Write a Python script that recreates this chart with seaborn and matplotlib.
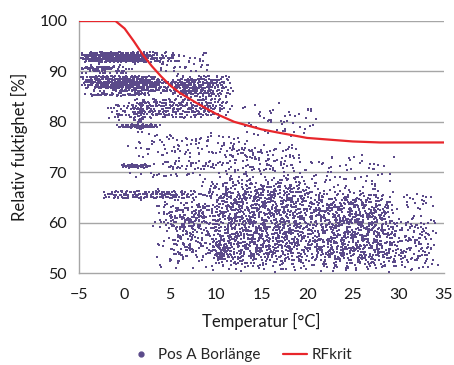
import numpy as np
import pandas as pd
import matplotlib
matplotlib.use("Agg")
import matplotlib.pyplot as plt
import seaborn as sns
from matplotlib.lines import Line2D

# ---- data ----
# RFkrit curve
rf_temp = [-5, -1, 0, 1, 2, 3, 4, 5, 6, 7, 8, 9, 10, 12, 14, 15, 17, 20, 25, 28, 35]
rf_val = [100, 100, 98.5, 96.0, 93.3, 91.0, 89.0, 87.2, 85.8, 84.7, 83.6, 82.6, 81.6, 80.0, 79.0, 78.5, 77.8, 76.8, 76.1, 75.9, 75.9]

# measured points summarised as density regions read from the picture:
# temperature range, RH range, number of points, RH resolution of the streaks
reg_t_lo = [-5, -5, 3, -5, -5, -4, -5, 5, 0, 12, -2, -1, 1.3, 0, -0.5, 3, 0, -3, 3, 3,
            8, 20, 28, 9.5, 10, 19, 30, 5, -5]
reg_t_hi = [3, 6, 10, -1, 4, 10, 3, 12, 12, 22, 2, 4, 2.1, 15, 3, 12, 9, 9, 10, 8,
            22, 30, 34.5, 11.5, 20, 30, 34, 9, 1]
reg_rh_lo = [91.8, 91.5, 89.5, 90.2, 86.5, 85.5, 85.2, 84.5, 80.5, 76.5, 80.0, 78.8, 77.5, 72.5, 70.8, 70.3, 69.0, 64.5, 58.0, 50.0,
             50.0, 50.0, 50.0, 52.5, 69.0, 66.0, 62.0, 52.0, 89.3]
reg_rh_hi = [93.8, 94.1, 94.0, 91.0, 89.3, 88.5, 85.6, 89.5, 85.0, 84.0, 84.0, 79.6, 84.0, 78.0, 71.6, 72.5, 70.0, 66.5, 64.5, 58.0,
             70.0, 67.0, 62.0, 56.0, 76.0, 74.0, 66.0, 64.0, 91.2]
reg_n = [420, 200, 45, 40, 380, 330, 50, 220, 300, 50, 45, 80, 40, 100, 60, 50, 20, 160, 110, 30,
         1500, 900, 170, 45, 120, 60, 20, 120, 50]
reg_step = [0.3, 0.3, 0.3, 0.2, 0.3, 0.3, 0.1, 0.3, 0.3, 0.1, 0.3, 0.2, 0.1, 0.1, 0.2, 0.2, 0.1, 0.3, 0.1, 0.1,
            0.0, 0.0, 0.0, 0.0, 0.0, 0.0, 0.0, 0.0, 0.4]


def radical_inverse(i, base):
    f, r = 1.0, np.zeros_like(i, dtype=float)
    i = i.copy()
    while np.any(i > 0):
        f /= base
        r += f * (i % base)
        i //= base
    return r


# ---- expand regions into points (deterministic Halton fill with soft edges) ----
xs, ys = [], []
offset = 1
for t0, t1, r0, r1, n, st in zip(reg_t_lo, reg_t_hi, reg_rh_lo, reg_rh_hi, reg_n, reg_step):
    i = np.arange(offset, offset + n)
    offset += n + 11
    u, v = radical_inverse(i, 2), radical_inverse(i, 3)
    w, z = radical_inverse(i, 5), radical_inverse(i, 7)
    x = t0 + (t1 - t0) * (0.78 * u + 0.22 * w)
    y = r0 + (r1 - r0) * (0.78 * v + 0.22 * z)
    if st > 0:
        y = np.round(y / st) * st
    xs.append(x)
    ys.append(y)
pts = pd.DataFrame({"Temperatur": np.concatenate(xs), "RF": np.concatenate(ys)})
crit = pd.DataFrame({"Temperatur": rf_temp, "RF": rf_val})

# ---- plot ----
sns.set_style("white")
plt.rcParams["font.family"] = ["Lato", "DejaVu Sans"]
fig = plt.figure(figsize=(4.54, 3.65), dpi=100)
ax = fig.add_axes([0.174, 0.252, 0.804, 0.6905])

purple = "#5B4A8A"
sns.scatterplot(data=pts, x="Temperatur", y="RF", ax=ax, marker="s", s=1.5,
                color=purple, linewidth=0, legend=False, zorder=3)
sns.lineplot(data=crit, x="Temperatur", y="RF", ax=ax, color="#E8262B", linewidth=1.6,
             legend=False, zorder=4)

ax.set_xlim(-5, 35)
ax.set_ylim(50, 100)
ax.set_xticks(range(-5, 36, 5))
ax.set_yticks(range(50, 101, 10))
ax.set_yticks(range(55, 100, 10), minor=True)
for y in range(60, 101, 10):
    ax.axhline(y, color="#A6A6A6", linewidth=1.0, zorder=1)
for s in ["top", "right"]:
    ax.spines[s].set_visible(False)
for s in ["left", "bottom"]:
    ax.spines[s].set_color("#A6A6A6")
    ax.spines[s].set_linewidth(1.0)
ax.tick_params(axis="both", which="both", direction="out", color="#A6A6A6",
               length=5, width=1.0, labelsize=11.5, labelcolor="#1a1a1a")
ax.tick_params(axis="x", pad=6)
ax.set_xlabel("Temperatur [°C]", fontsize=12, color="#1a1a1a", labelpad=8)
ax.set_ylabel("Relativ fuktighet [%]", fontsize=12, color="#1a1a1a", labelpad=8)

handles = [Line2D([0], [0], marker="o", color="none", markerfacecolor=purple,
                  markeredgecolor=purple, markersize=3.5, label="Pos A Borlänge"),
           Line2D([0], [0], color="#E8262B", linewidth=1.6, label="RFkrit")]
fig.legend(handles=handles, loc="center", bbox_to_anchor=(0.53, 0.027), ncol=2,
           frameon=False, fontsize=11, handlelength=1.6, handletextpad=0.3,
           columnspacing=1.5)

fig.savefig("out.png", dpi=100)
